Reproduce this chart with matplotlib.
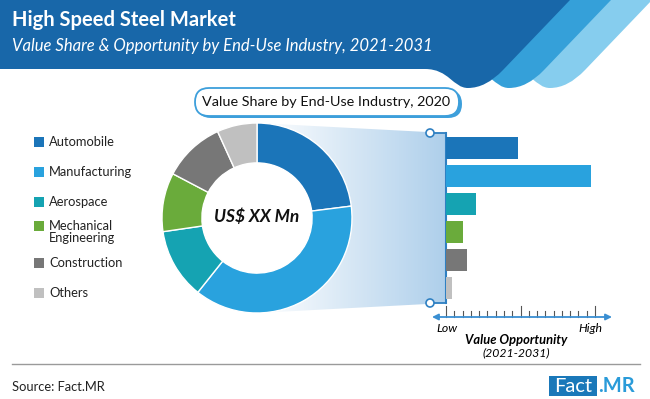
import numpy as np
import matplotlib.pyplot as plt
from matplotlib.path import Path
from matplotlib.patches import PathPatch, FancyBboxPatch, Rectangle, Circle, Polygon
from matplotlib.colors import LinearSegmentedColormap

plt.rcParams['font.family'] = ['Lato', 'DejaVu Sans']

# --------------------------------------------------
# data
# --------------------------------------------------
industries = ['Automobile', 'Manufacturing', 'Aerospace',
              'Mechanical\nEngineering', 'Construction', 'Others']
share_2020 = [23.0, 37.7, 12.0, 10.0, 10.5, 6.8]          # % value share
opportunity = [48, 97, 20, 11.5, 14, 4]                    # low (0) .. high (100)
colors = ['#1b75b9', '#29a2de', '#15a3b2', '#6aab3b', '#777777', '#c0c0c0']
scale_labels = ['Low', 'High']

title = 'High Speed Steel Market'
subtitle = 'Value Share & Opportunity by End-Use Industry, 2021-2031'
chart_title = 'Value Share by End-Use Industry, 2020'

W, H = 650, 399
fig = plt.figure(figsize=(W / 100, H / 100), dpi=100)

# background axes in pixel coordinates (y down)
bg = fig.add_axes([0, 0, 1, 1])
bg.set_xlim(0, W)
bg.set_ylim(H, 0)
bg.axis('off')


def box(x0, y0, x1, y1):
    # pixel box -> figure fraction rect
    return [x0 / W, (H - y1) / H, (x1 - x0) / W, (y1 - y0) / H]


# --------------------------------------------------
# header band with stripes
# --------------------------------------------------
def band(dx):
    verts = [(0, 0), (570 + dx, 0), (503 + dx, 70),
             (486 + dx, 88), (468 + dx, 88),
             (453 + dx, 88), (449 + dx, 69), (425 + dx, 69),
             (0, 69), (0, 0)]
    codes = [Path.MOVETO, Path.LINETO, Path.LINETO,
             Path.CURVE3, Path.CURVE3,
             Path.CURVE4, Path.CURVE4, Path.CURVE4,
             Path.LINETO, Path.CLOSEPOLY]
    return Path(verts, codes)


for dx, c in [(82, '#86cdee'), (41, '#35a0d9'), (0, '#1867a9')]:
    bg.add_patch(PathPatch(band(dx), facecolor=c, edgecolor='none'))

bg.text(12, 20, title, color='white', fontsize=14.5, fontweight='bold', va='center')
bg.text(12, 46, subtitle, color='white', fontsize=12, style='italic', va='center')

# chart title box
bg.add_patch(FancyBboxPatch((197, 90), 265, 28, boxstyle='round,pad=0,rounding_size=14',
                            facecolor='#3d9fdb', edgecolor='none'))
bg.add_patch(FancyBboxPatch((195, 88), 264, 28, boxstyle='round,pad=0,rounding_size=14',
                            facecolor='white', edgecolor='#3d9fdb', lw=1.3))
bg.text(326, 102, chart_title, fontsize=10.4, ha='center', va='center', color='#111111')

# --------------------------------------------------
# legend
# --------------------------------------------------
leg_y = [142, 172, 202, 232, 263, 293]
for name, c, y in zip(industries, colors, leg_y):
    sq_y = y - 5 if '\n' not in name else y - 11
    bg.add_patch(Rectangle((34, sq_y), 10, 10, facecolor=c, edgecolor='none'))
    bg.text(49, y, name, fontsize=9.3, va='center', color='#222222', linespacing=0.95)

# --------------------------------------------------
# gradient link between donut and bars
# --------------------------------------------------
grad = LinearSegmentedColormap.from_list('g', ['#ffffff', '#aecfeb'])
img = bg.imshow(np.linspace(0, 1, 256)[None, :], cmap=grad, aspect='auto',
                extent=[257, 446, 313, 123], zorder=1)
clip = Polygon([(257, 123), (446, 133), (446, 303), (257, 313)], closed=True,
               transform=bg.transData, facecolor='none', edgecolor='none')
bg.add_patch(clip)
img.set_clip_path(clip)
bg.set_xlim(0, W)
bg.set_ylim(H, 0)

line_c = '#2f80c2'
bg.plot([446, 446], [133, 303], color=line_c, lw=1.5, zorder=3)
bg.plot([430, 446], [133, 133], color=line_c, lw=1.3, zorder=3)
bg.plot([430, 446], [303, 303], color=line_c, lw=1.3, zorder=3)
for yy in (133, 303):
    bg.add_patch(Circle((430, yy), 4, facecolor='white', edgecolor=line_c, lw=1.2, zorder=4))

# --------------------------------------------------
# donut
# --------------------------------------------------
dax = fig.add_axes(box(162, 123, 352, 313))
dax.pie(share_2020, colors=colors, startangle=90, counterclock=False, radius=1,
        wedgeprops=dict(width=0.42, edgecolor='white', linewidth=1))
dax.add_patch(Circle((0, 0), 0.58, facecolor='white', edgecolor='none'))
dax.set_xlim(-1, 1)
dax.set_ylim(-1, 1)
dax.set_aspect('auto')
dax.axis('off')
dax.text(0, 0.01, 'US$ XX Mn', fontsize=12.5, fontweight='bold', style='italic',
         ha='center', va='center', color='#111111')

# --------------------------------------------------
# opportunity bars
# --------------------------------------------------
bax = fig.add_axes(box(446, 134, 595, 302))
bax.barh(range(len(opportunity)), opportunity, height=0.82, color=colors)
bax.set_xlim(0, 100)
bax.set_ylim(len(opportunity) - 0.5, -0.5)
bax.axis('off')

# scale below bars
bg.annotate('', xy=(432, 317), xytext=(612, 317),
            arrowprops=dict(arrowstyle='<|-|>', color='#3a8fd2', lw=1.3,
                            mutation_scale=9, shrinkA=0, shrinkB=0))
for i in range(19):
    xx = 446 + i * 149 / 18
    top = 306 if i in (0, 9, 18) else 311
    bg.plot([xx, xx], [317, top], color='#555555', lw=0.8)
bg.text(447, 328, scale_labels[0], fontsize=8.8, style='italic', ha='center', va='center')
bg.text(590, 328, scale_labels[1], fontsize=8.8, style='italic', ha='center', va='center')
bg.text(516, 340, 'Value Opportunity', fontsize=9.3, fontweight='bold', style='italic',
        ha='center', va='center')
bg.text(516, 353, '(2021-2031)', fontsize=8.8, style='italic', ha='center', va='center')

# --------------------------------------------------
# footer
# --------------------------------------------------
bg.plot([12, 640], [364, 364], color='#9a9a9a', lw=1)
bg.text(12, 387, 'Source: Fact.MR', fontsize=9.3, va='center', color='#222222')
bg.add_patch(Rectangle((549, 376), 48, 20, facecolor='#1a78b9', edgecolor='none'))
bg.text(573, 386, 'Fact', fontsize=14.5, color='white', ha='center', va='center')
bg.text(598, 386, '.MR', fontsize=14.5, color='#2a9bd9', fontweight='bold', va='center')

fig.savefig('out.png', dpi=100)
